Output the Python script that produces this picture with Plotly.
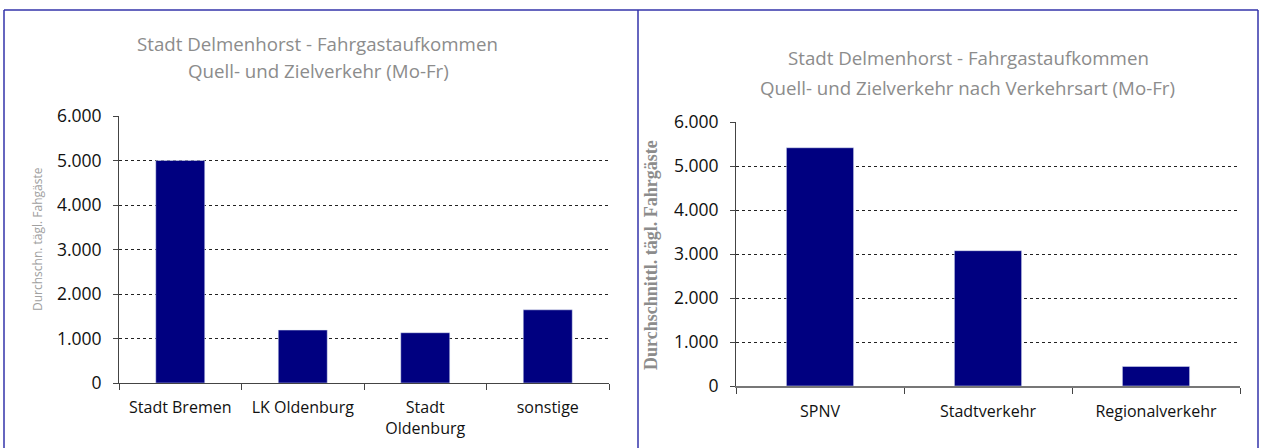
import plotly.graph_objects as go

W, H = 1265, 448

# left chart: Quell- und Zielverkehr
ziel_kat = ["Stadt Bremen", "LK Oldenburg", "Stadt<br>Oldenburg", "sonstige"]
ziel_werte = [5000, 1190, 1130, 1645]

# right chart: nach Verkehrsart
art_kat = ["SPNV", "Stadtverkehr", "Regionalverkehr"]
art_werte = [5415, 3075, 445]

y_ticks = [0, 1000, 2000, 3000, 4000, 5000, 6000]

NAVY = "#000080"
GRAU = "#8c8c8c"
RAND = "#3333aa"
FONT = "Open Sans"


def px(x):
    return x / W


def py(y):
    return 1 - y / H


fig = go.Figure()
fig.add_trace(go.Bar(x=ziel_kat, y=ziel_werte, marker_color=NAVY,
                     xaxis="x", yaxis="y", width=0.4))
fig.add_trace(go.Bar(x=art_kat, y=art_werte, marker_color=NAVY,
                     xaxis="x2", yaxis="y2", width=0.4))

yaxis_common = dict(
    range=[0, 6000], tickvals=y_ticks, tickformat=",d",
    showgrid=True, gridcolor="#222", griddash="dot", gridwidth=1,
    showline=True, linecolor="#444", linewidth=1,
    ticks="outside", ticklen=5, tickcolor="#444", ticklabelstandoff=8,
    tickfont=dict(family=FONT, size=17.5, color="#111"),
    zeroline=False, fixedrange=True, automargin=False,
)
xaxis_common = dict(
    ticks="outside", ticklen=6, tickcolor="#444", tickson="boundaries",
    tickfont=dict(family=FONT, size=16, color="#111"),
    showline=True, showgrid=False, fixedrange=True, automargin=False,
)

fig.update_layout(
    width=W, height=H,
    margin=dict(l=0, r=0, t=0, b=0, autoexpand=False),
    paper_bgcolor="white", plot_bgcolor="white",
    showlegend=False, separators=",.",
    xaxis=dict(domain=[px(119), px(609)], anchor="y", ticklabelstandoff=10,
               linecolor="#444", linewidth=1, **xaxis_common),
    yaxis=dict(domain=[py(383), py(116)], anchor="x", **yaxis_common),
    xaxis2=dict(domain=[px(736), px(1240)], anchor="y2", ticklabelstandoff=10,
                linecolor="#777", linewidth=1.5, **xaxis_common),
    yaxis2=dict(domain=[py(386), py(122)], anchor="x2", **yaxis_common),
)

annots = [
    dict(x=px(317), y=py(43), text="Stadt Delmenhorst - Fahrgastaufkommen",
         font=dict(family=FONT, size=18.7, color=GRAU)),
    dict(x=px(318), y=py(71), text="Quell- und Zielverkehr (Mo-Fr)",
         font=dict(family=FONT, size=18.7, color=GRAU)),
    dict(x=px(968), y=py(58), text="Stadt Delmenhorst - Fahrgastaufkommen",
         font=dict(family=FONT, size=18.7, color=GRAU)),
    dict(x=px(967), y=py(88), text="Quell- und Zielverkehr nach Verkehrsart (Mo-Fr)",
         font=dict(family=FONT, size=18.7, color=GRAU)),
    dict(x=px(37), y=py(239), text="Durchschn. tägl. Fahgäste", textangle=-90,
         font=dict(family=FONT, size=12, color="#a0a0a0")),
    dict(x=px(651), y=py(255), text="<b>Durchschnittl. tägl. Fahrgäste</b>", textangle=-90,
         font=dict(family="Liberation Serif", size=18, color=GRAU)),
]
for a in annots:
    fig.add_annotation(xref="paper", yref="paper", showarrow=False,
                       xanchor="center", yanchor="middle", align="center",
                       **a)

# blue panel frames
for x0, y0, x1, y1 in [(4, 10, 1258, 10), (4, 10, 4, 460), (638, 10, 638, 460), (1258, 10, 1258, 460)]:
    fig.add_shape(type="line", xref="paper", yref="paper",
                  x0=px(x0), y0=py(y0), x1=px(x1), y1=py(y1),
                  line=dict(color=RAND, width=1.5))

fig.write_html("out.html", config={"displayModeBar": False},
               post_script="document.body.style.margin='0';")
